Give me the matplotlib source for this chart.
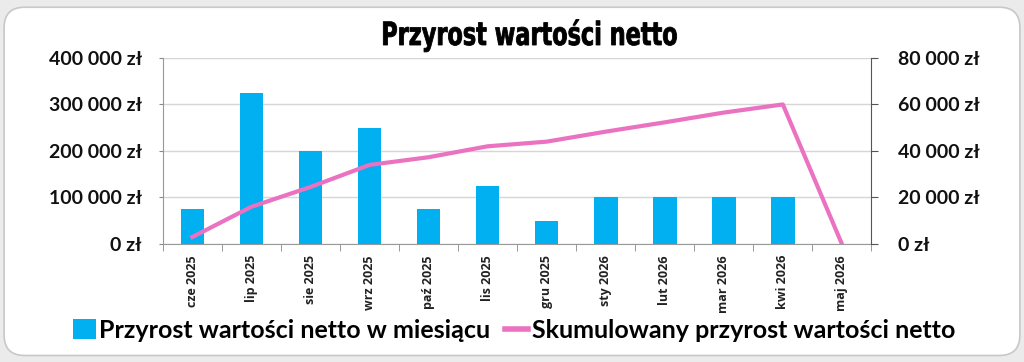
import matplotlib
matplotlib.use("Agg")
import matplotlib.pyplot as plt
from matplotlib.patches import FancyBboxPatch, Patch, PathPatch
from matplotlib.lines import Line2D
from matplotlib.textpath import TextPath
from matplotlib.font_manager import FontProperties
from matplotlib.transforms import Affine2D
from matplotlib.ticker import FuncFormatter
import numpy as np

# Data
months = ["cze 2025", "lip 2025", "sie 2025", "wrz 2025", "paź 2025", "lis 2025",
          "gru 2025", "sty 2026", "lut 2026", "mar 2026", "kwi 2026", "maj 2026"]
monthly_gain = [75000, 325000, 200000, 250000, 75000, 125000,
                50000, 100000, 100000, 100000, 100000, 0]
cumulative_gain = [3000, 16000, 24500, 34000, 37300, 42000,
                   44000, 48300, 52300, 56500, 60000, 0]
title = "Przyrost wartości netto"

bar_color = "#00b0f0"
line_color = "#ea72c0"
label_font = "Lato"


def zl(v, pos=None):
    return f"{int(v):,} zł".replace(",", " ")


fig = plt.figure(figsize=(10.24, 3.62), dpi=100)
fig.patch.set_facecolor("#ebebeb")

# white card with rounded corners
card = FancyBboxPatch((0.004, 0.018), 0.992, 0.962,
                      boxstyle="round,pad=0,rounding_size=0.02",
                      transform=fig.transFigure, facecolor="white",
                      edgecolor="#c8c8c8", linewidth=1.2, zorder=-5,
                      mutation_aspect=1024 / 362)
fig.patches.append(card)

ax = fig.add_axes([0.159, 0.326, 0.692, 0.514])
ax.set_zorder(2)
ax.set_facecolor("none")
x = np.arange(len(months))
ax.bar(x, monthly_gain, width=0.4, color=bar_color, zorder=2)
ax.set_xlim(-0.5, len(months) - 0.5)
ax.set_ylim(0, 400000)
ax.set_yticks(np.arange(0, 400001, 100000))
ax.yaxis.set_major_formatter(FuncFormatter(zl))
ax.grid(axis="y", color="#d6d6d6", linewidth=1, zorder=0)
ax.set_axisbelow(True)
ax.set_xticks(x)
ax.set_xticklabels(months, rotation=90, fontsize=9, fontweight="bold",
                   family="Open Sans", color="#222222")
ax.set_xticks(np.arange(-0.5, len(months)), minor=True)
ax.tick_params(axis="x", which="major", length=0, pad=8)
ax.tick_params(axis="x", which="minor", length=5, color="#888888", direction="out")
ax.tick_params(axis="y", length=3, color="#888888", pad=12)
for lab in ax.get_yticklabels():
    lab.set_fontsize(14)
    lab.set_fontweight("bold")
    lab.set_family(label_font)
    lab.set_color("#111111")
for side in ["top", "right"]:
    ax.spines[side].set_visible(False)
for side in ["left", "bottom"]:
    ax.spines[side].set_color("#999999")

ax2 = ax.twinx()
ax2.set_zorder(3)
ax2.plot(x, cumulative_gain, color=line_color, linewidth=3, zorder=3,
         solid_joinstyle="round")
ax2.set_ylim(0, 80000)
ax2.set_yticks(np.arange(0, 80001, 20000))
ax2.yaxis.set_major_formatter(FuncFormatter(zl))
ax2.tick_params(axis="y", length=5, color="#555555", pad=14)
for lab in ax2.get_yticklabels():
    lab.set_fontsize(14)
    lab.set_fontweight("bold")
    lab.set_family(label_font)
    lab.set_color("#111111")
for side in ["top", "left", "bottom"]:
    ax2.spines[side].set_visible(False)
ax2.spines["right"].set_color("#555555")

# condensed heavy title: squeeze a text path horizontally
tp = TextPath((0, 0), title, size=32,
              prop=FontProperties(family="DejaVu Sans", weight="bold"))
ext = tp.get_extents()
sx = 0.70
cx, base = 530, 362 - 45
tr = Affine2D().translate(-(ext.x0 + ext.x1) / 2, 0).scale(sx, 1).translate(cx, base)
fig.patches.append(PathPatch(tp, transform=tr, facecolor="black",
                             edgecolor="black", linewidth=0.6))

handles = [Patch(facecolor=bar_color, edgecolor="none"),
           Line2D([0], [0], color=line_color, linewidth=4)]
fig.legend(handles, ["Przyrost wartości netto w miesiącu",
                     "Skumulowany przyrost wartości netto"],
           loc="center", bbox_to_anchor=(0.502, 0.088), ncol=2, frameon=False,
           prop={"family": label_font, "weight": "bold", "size": 18},
           handlelength=0.9, handleheight=0.8, handletextpad=0.15,
           columnspacing=0.6)

fig.savefig("out.png", dpi=100, facecolor=fig.get_facecolor())
